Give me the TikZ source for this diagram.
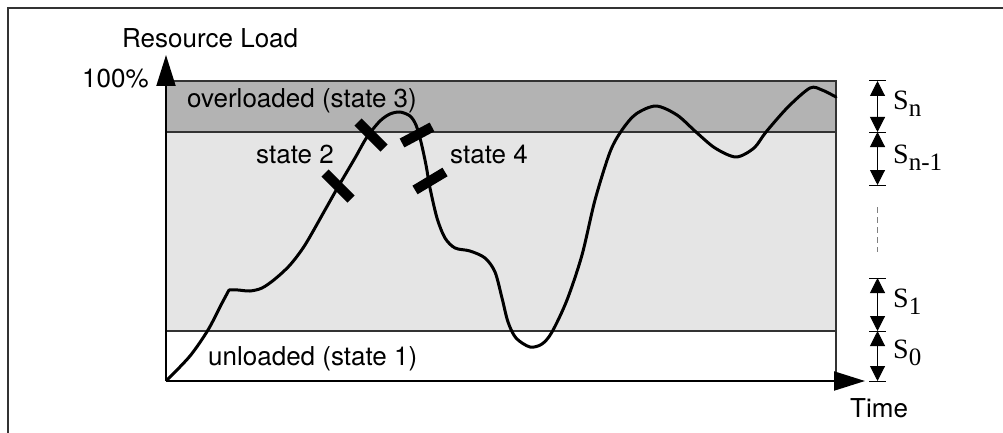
\documentclass[tikz,border=0pt]{standalone}
\usepackage{fontspec}
\setmainfont{TeX Gyre Heros}
\newfontfamily\timesS{Liberation Serif}
\usetikzlibrary{arrows.meta}
\definecolor{darkband}{HTML}{B3B3B3}
\definecolor{lightband}{HTML}{E5E5E5}
\definecolor{edgegray}{HTML}{333333}
\newcommand{\dimsub}[1]{\raisebox{-7pt}{\fontsize{25}{27}\selectfont #1}}
\tikzset{
 lbl/.style={anchor=base west, inner sep=0pt, font=\fontsize{26}{30}\selectfont},
 slbl/.style={anchor=base west, inner sep=0pt, font=\timesS\fontsize{28}{30}\selectfont},
 axisline/.style={line width=2pt, -{Triangle[width=19pt,length=31pt]}},
 dimarrow/.style={line width=1pt, {Triangle[width=15pt,length=15pt]}-{Triangle[width=15pt,length=15pt]}},
 dimtick/.style={line width=1pt},
 statemark/.style={line width=10pt},
 curveline/.style={line width=3pt, line join=round, line cap=round},
 frameline/.style={line width=1.5pt, edgegray},
 bandline/.style={line width=1.5pt, edgegray},
}
\begin{document}
\begin{tikzpicture}[x=1pt,y=-1pt]
\useasboundingbox (0,0) rectangle (1003,433);
% outer frame
\draw[frameline] (1010,8) -- (8,8) -- (8,440);
% coordinates
\coordinate (O) at (166,381);
\coordinate (Ytip) at (166,55);
\coordinate (Xtip) at (865,381);
\coordinate (TL) at (166,81);
\coordinate (BR) at (836,381);
% bands
\fill[darkband] (166,81) rectangle (836,132);
\fill[lightband] (166,132) rectangle (836,331);
\fill[white] (166,331) rectangle (836,381);
\draw[bandline] (166,132) -- (836,132);
\draw[bandline] (166,331) -- (836,331);
\draw[bandline] (TL) -- (836,81) -- (BR);
% curve
\draw[curveline] plot[smooth, tension=0.5] coordinates {(167,380) (190,356) (208,330) (221,305) (229,290)}
  plot[smooth, tension=0.5] coordinates {(229,290) (238,290) (250,291) (262,288) (275,279) (290,265) (305,245) (325,210) (338,187) (355,158) (367,137) (380,121) (390,114) (400,112) (410,116) (416,125) (421,142) (426,165) (430,188) (437,218) (445,238) (455,248) (470,251) (485,258) (495,272) (502,298) (508,322) (516,338) (530,347) (542,344) (552,332) (567,300) (582,255) (595,200) (610,152) (622,130) (636,114) (656,106) (677,115) (696,132) (715,148) (736,157) (754,148) (766,132) (788,107) (810,88) (822,90) (836,97)};
% state marks
\draw[statemark] (325,173) -- (351,199);
\draw[statemark] (358,122) -- (384,148);
\draw[statemark] (402,143) -- (432,127);
\draw[statemark] (415,190) -- (445,172);
% axes
\draw[axisline] (O) -- (Ytip);
\draw[axisline] (O) -- (Xtip);
% labels
\node[lbl] (resload) at (122,48) {Resource Load};
\node[lbl] (hundred) at (82,88) {100\%};
\node[lbl] (over) at (187,108) {overloaded (state 3)};
\node[lbl] (st2) at (256,163) {state 2};
\node[lbl] (st4) at (450,163) {state 4};
\node[lbl] (under) at (208,365) {unloaded (state 1)};
\node[lbl] (time) at (850,417) {Time};
% dimension marks
\foreach \yy in {81,132,185,278,331,381}
  \draw[dimtick] (869,\yy) -- (886,\yy);
\coordinate (d0) at (877.5,81);
\coordinate (d1) at (877.5,132);
\coordinate (d2) at (877.5,185);
\coordinate (d3) at (877.5,278);
\coordinate (d4) at (877.5,331);
\coordinate (d5) at (877.5,381);
\draw[dimarrow] (d0) -- (d1);
\draw[dimarrow] (d1) -- (d2);
\draw[dimarrow] (d3) -- (d4);
\draw[dimarrow] (d4) -- (d5);
\draw[line width=1pt, gray, dash pattern=on 6pt off 4pt] (877.5,207) -- (877.5,252);
\node[slbl] (sn) at (893,110) {S\dimsub{n}};
\node[slbl] (sn1) at (893,163) {S\dimsub{n-1}};
\node[slbl] (s1) at (893,307) {S\dimsub{1}};
\node[slbl] (s0) at (893,358) {S\dimsub{0}};
\end{tikzpicture}
\end{document}
